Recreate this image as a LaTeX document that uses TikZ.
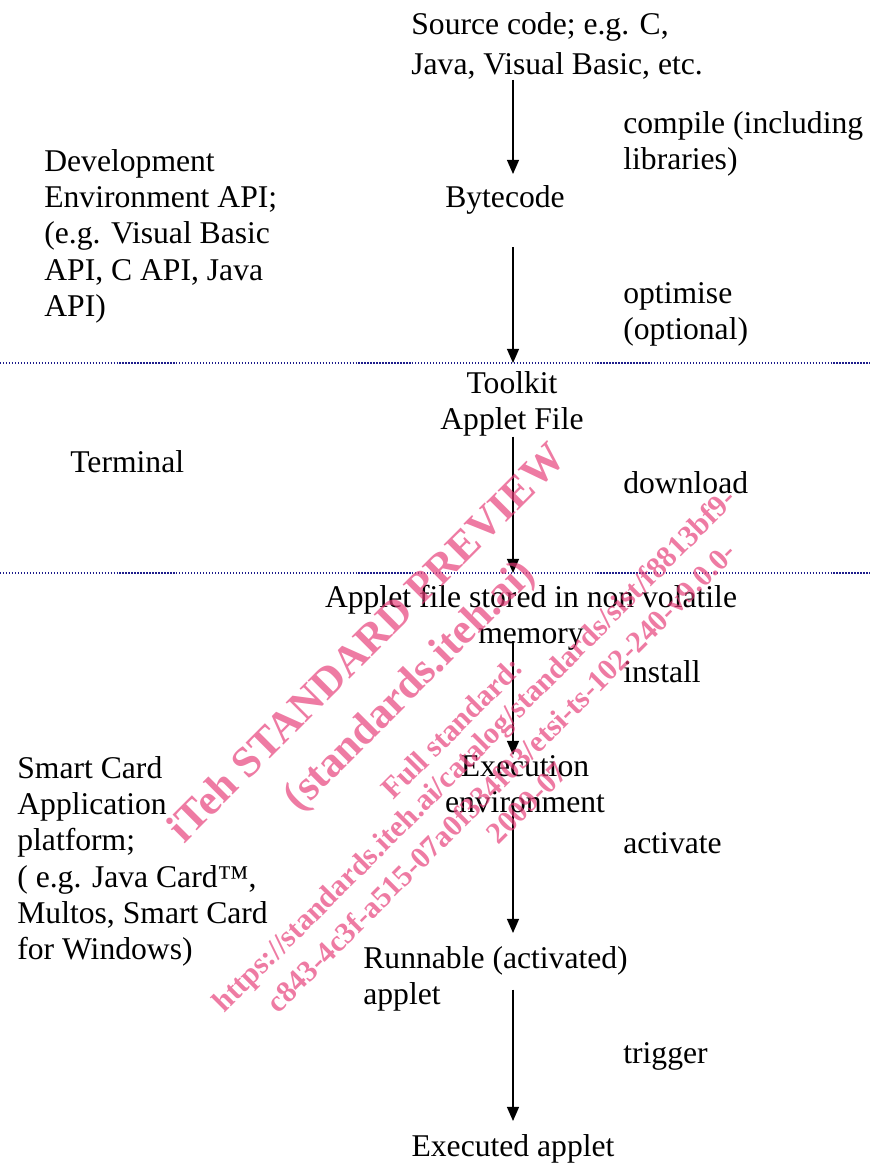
\documentclass[tikz,border=0pt]{standalone}
\usepackage{fontspec}
\setmainfont{Liberation Serif}
\usetikzlibrary{arrows.meta}

\definecolor{borderblue}{RGB}{30,30,140}
\definecolor{stamppink}{RGB}{230,60,120}

\begin{document}
\begin{tikzpicture}
	\tikzset{txt/.style={inner sep=0pt, font=\fontsize{18}{20.66}\selectfont},
		flow/.style={-{Triangle[width=6.8pt,length=8pt]}, line width=0.75pt},
		border/.style={draw=borderblue, line width=0.68pt, dash pattern=on 0.7pt off 1pt},
		stamp/.style={inner sep=0pt, rotate=45, text=stamppink, text opacity=0.68, font=\bfseries\fontsize{24.5}{27}\selectfont},
		smallstamp/.style={stamp, font=\bfseries\fontsize{17.2}{19}\selectfont}}
	
	\useasboundingbox (0,0) rectangle (17.4,-23.26);
	\coordinate (Axis) at (10.26,0);
	
	%% DEVELOPMENT
	\node[txt, anchor=north west, align=left] (SrcCode) at (8.22,-0.24) {Source code; e.g. C,\\[2.3pt]Java, Visual Basic, etc.};
	\node[txt, anchor=north west, align=left] (DevEnv) at (0.88,-2.98) {Development\\Environment API;\\(e.g. Visual Basic\\API, C API, Java\\API)};
	\node[txt, anchor=north west, align=left] (Compile) at (12.46,-2.22) {compile (including\\libraries)};
	\node[txt, anchor=north] (ByteCode) at (10.10,-3.70) {Bytecode};
	\node[txt, anchor=north west, align=left] (Optimise) at (12.46,-5.64) {optimise\\(optional)};
	
	\coordinate (TermTopW) at (0,-7.26);
	\coordinate (TermTopE) at (17.4,-7.26);
	\draw[border] (TermTopW) -- (TermTopE);
	
	%% TERMINAL
	\node[txt, anchor=north, align=center] (Toolkit) at (10.24,-7.42) {Toolkit\\Applet File};
	\node[txt, anchor=north west] (Terminal) at (1.40,-9.0) {Terminal};
	\node[txt, anchor=north west] (Download) at (12.46,-9.42) {download};
	
	\coordinate (CardTopW) at (0,-11.46);
	\coordinate (CardTopE) at (17.4,-11.46);
	\draw[border] (CardTopW) -- (CardTopE);
	
	%% SMART CARD
	\node[txt, anchor=north, align=center] (Stored) at (10.62,-11.70) {Applet file stored in non volatile\\memory};
	\node[txt, anchor=north west] (Install) at (12.46,-13.20) {install};
	\node[txt, anchor=north, align=center] (ExecEnv) at (10.50,-15.10) {Execution\\environment};
	\node[txt, anchor=north west, align=left] (SmartCard) at (0.34,-15.12) {Smart Card\\Application\\platform;\\( e.g. Java Card™,\\Multos, Smart Card\\for Windows)};
	\node[txt, anchor=north west] (Activate) at (12.46,-16.64) {activate};
	\node[txt, anchor=north west, align=left] (Runnable) at (7.26,-18.92) {Runnable (activated)\\applet};
	\node[txt, anchor=north west] (Trigger) at (12.46,-20.84) {trigger};
	\node[txt, anchor=north] (Executed) at (10.26,-22.68) {Executed applet};
	
	\draw[flow, shorten >=0.22cm] (SrcCode.south -| Axis) -- (ByteCode.north -| Axis);
	\draw[flow, shorten <=0.66cm] (ByteCode.south -| Axis) -- (TermTopW -| Axis);
	\draw[flow] (Toolkit.south -| Axis) -- (CardTopW -| Axis);
	\draw[flow, shorten <=-0.2cm] (Stored.south -| Axis) -- (ExecEnv.north -| Axis);
	\draw[flow, shorten <=-0.16cm, shorten >=0.26cm] (ExecEnv.south -| Axis) -- (Runnable.north -| Axis);
	\draw[flow, shorten <=-0.44cm, shorten >=0.26cm] (Runnable.south -| Axis) -- (Executed.north -| Axis);
	
	%% PREVIEW STAMP
	\node[stamp] (StampA) at (7.32,-12.84) {iTeh STANDARD PREVIEW};
	\node[stamp] (StampB) at (8.22,-13.74) {(standards.iteh.ai)};
	\node[smallstamp] (StampC) at (9.04,-14.56) {Full standard:};
	\node[smallstamp] (StampD) at (9.52,-15.04) {https://standards.iteh.ai/catalog/standards/sist/f8813bf9-};
	\node[smallstamp] (StampE) at (10.02,-15.54) {c843-4c3f-a515-07a0f334f03/etsi-ts-102-240-v9.0.0-};
	\node[smallstamp] (StampF) at (10.54,-16.06) {2009-07};
	
\end{tikzpicture}
\end{document}
